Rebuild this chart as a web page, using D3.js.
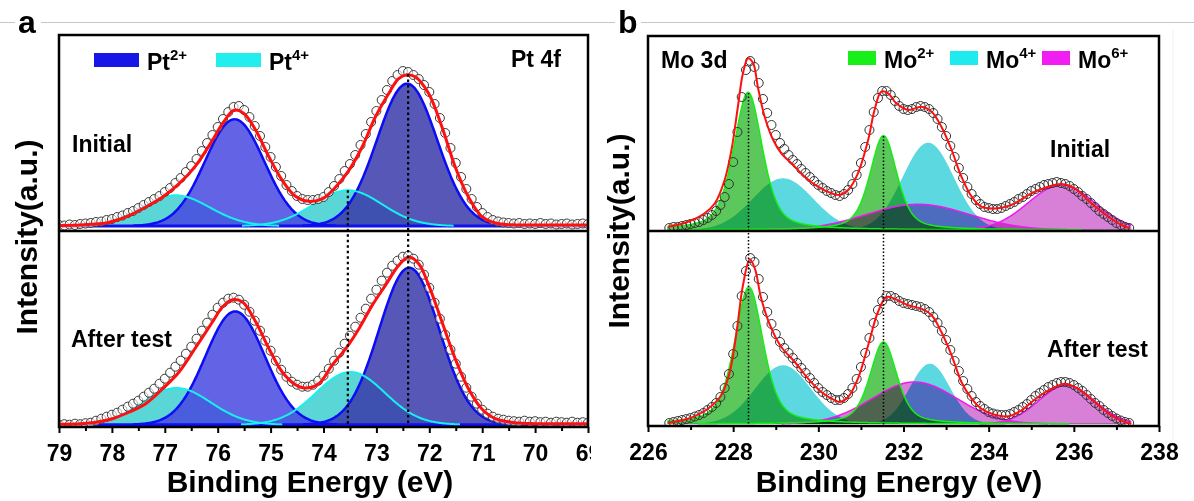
<!DOCTYPE html>
<html>
<head>
<meta charset="utf-8">
<script src="https://cdnjs.cloudflare.com/ajax/libs/d3/7.8.5/d3.min.js"></script>
<style>
  html, body { margin: 0; padding: 0; background: #fff; }
  svg { display: block; font-family: "Liberation Sans", Arial, sans-serif; font-weight: bold; }
</style>
</head>
<body>
<svg id="chart" width="1194" height="501"><defs></defs></svg>
<script>
// ---------- panel a : Pt 4f ----------
var ptStates = ["Pt2+", "Pt4+"];
var ptTicks = [79, 78, 77, 76, 75, 74, 73, 72, 71, 70, 69];
var ptMinor = [78.5, 77.5, 76.5, 75.5, 74.5, 73.5, 72.5, 71.5, 70.5, 69.5];
// measured points, 79.0 -> 69.0 eV every 0.1 eV
var ptEnergy = d3.range(0, 101).map(function (i) { return +(79 - i * 0.1).toFixed(1); });
var ptInitial = [
  1, 0.5, 1.5, 1, 2, 2.5, 3, 4, 4.5, 6,
  7, 9, 10.5, 13, 15, 18, 21, 24, 27, 30,
  34, 38, 43, 48, 54, 60, 67, 75, 83, 91,
  99, 107, 114, 119, 120, 116, 109, 100, 90, 79,
  69, 59, 50, 41, 35, 30, 27, 26, 26, 27,
  29, 34, 40, 47, 55, 62, 71, 81, 92, 104,
  115, 126, 136, 145, 151, 155, 154, 151, 147, 141,
  134, 122, 108, 93, 78, 63, 49, 37, 27, 19,
  13, 9, 6, 4.5, 3.5, 3, 2.5, 3, 2, 2.5,
  2, 3, 2, 2.5, 1.5, 2, 2.5, 1.5, 2, 2.5,
  2
];
var ptAfter = [
  0, 0.5, 0, 1, 0.5, 1.5, 2, 4, 6, 8,
  10, 12, 15, 18, 21, 24, 28, 32, 36, 41,
  46, 52, 58, 64, 71, 78, 86, 94, 102, 110,
  117, 122, 126, 127, 125, 120, 113, 104, 94, 84,
  74, 64, 55, 48, 43, 40, 38, 38, 40, 44,
  49, 56, 64, 72, 81, 89, 98, 107, 116, 126,
  135, 144, 152, 159, 164, 168, 169, 166, 160, 150,
  137, 122, 106, 90, 75, 61, 48, 37, 28, 21,
  15, 11, 8, 6, 5, 4, 3.5, 3, 4, 3,
  3.5, 2.5, 3, 2, 3, 2.5, 2, 3, 2, 2.5,
  2
];
// fitted envelope [eV, intensity]
var ptFitInitial = [
  [79.0, 0.5], [78.6, 1], [78.3, 2], [78.11, 3], [77.9, 6], [77.67, 10.7], [77.36, 19], [77.04, 29],
  [76.73, 42.3], [76.41, 60.7], [76.1, 85.7], [75.91, 102.3], [75.69, 115.7], [75.5, 112.3], [75.28, 95.7],
  [75.03, 69], [74.78, 45.7], [74.53, 29.7], [74.28, 24.7], [74.02, 27.3], [73.77, 39], [73.52, 55.7],
  [73.27, 79], [73.02, 109], [72.77, 132.3], [72.58, 147.3], [72.42, 151.3], [72.26, 149], [72.01, 132.3],
  [71.76, 99], [71.51, 59], [71.26, 29], [71.01, 9.7], [70.75, 3], [70.44, 1.2], [70.0, 1], [69.0, 1]
];
var ptFitAfter = [
  [79.0, 0.5], [78.6, 1], [78.3, 2.5], [77.99, 6], [77.67, 12.7], [77.36, 21], [77.04, 36], [76.73, 52.7],
  [76.41, 77.7], [76.1, 102.7], [75.91, 117.7], [75.72, 125], [75.53, 122.7], [75.28, 102.7], [75.03, 76],
  [74.78, 52.7], [74.53, 40], [74.34, 36.7], [74.09, 41], [73.84, 59.3], [73.58, 76], [73.33, 96],
  [73.08, 119.3], [72.83, 139.3], [72.58, 159.3], [72.39, 167.7], [72.2, 161], [72.01, 139.3], [71.76, 102.7],
  [71.51, 66], [71.26, 36], [71.01, 16], [70.75, 6], [70.38, 2], [70.0, 1], [69.0, 1]
];
// fitted components: centre (eV), height, FWHM (eV)
var ptPeaksInitial = [
  { state: "Pt2+", center: 75.68, height: 106.7, fwhm: 1.32 },
  { state: "Pt2+", center: 72.42, height: 142.3, fwhm: 1.34 },
  { state: "Pt4+", center: 76.8, height: 30.7, fwhm: 1.53 },
  { state: "Pt4+", center: 73.54, height: 35.7, fwhm: 1.53 }
];
var ptPeaksAfter = [
  { state: "Pt2+", center: 75.67, height: 113.3, fwhm: 1.32 },
  { state: "Pt2+", center: 72.38, height: 157, fwhm: 1.34 },
  { state: "Pt4+", center: 76.78, height: 36.7, fwhm: 1.53 },
  { state: "Pt4+", center: 73.49, height: 52.7, fwhm: 1.53 }
];
var ptRefLines = [{ energy: 73.54, top: 35.7 }, { energy: 72.4, top: 152 }];

// ---------- panel b : Mo 3d ----------
var moStates = ["Mo2+", "Mo4+", "Mo6+"];
var moTicks = [226, 228, 230, 232, 234, 236, 238];
var moMinor = [227, 229, 231, 233, 235, 237];
// measured points, 226.5 -> 237.3 eV every 0.1 eV
var moEnergy = d3.range(0, 109).map(function (i) { return +(226.5 + i * 0.1).toFixed(1); });
var moInitial = [
  2, 3, 3, 4, 5, 6, 7, 8, 10, 12,
  15, 19, 25, 33, 46, 68, 98, 133, 160, 169,
  163, 147, 131, 117, 105, 95, 87, 81, 75, 70,
  66, 61, 57, 53, 49, 45, 42, 39, 37, 35,
  34, 36, 40, 46, 55, 67, 83, 100, 118, 132,
  139, 139, 135, 129, 124, 121, 120, 121, 123, 124,
  123, 121, 117, 111, 103, 94, 84, 73, 62, 52,
  43, 36, 30, 26, 23, 22, 21, 21, 22, 24,
  26, 28, 31, 33, 36, 39, 41, 43, 45, 46,
  47, 48, 47, 46, 44, 41, 38, 34, 31, 27,
  23, 19, 16, 13, 10, 7, 5, 3, 2
];
var moAfter = [
  1, 2, 3, 4, 5, 6, 7.5, 9, 11, 14,
  17, 21, 27, 36, 50, 70, 98, 128, 153, 166,
  162, 145, 127, 112, 100, 90, 82, 76, 71, 66,
  61, 56, 51, 46, 41, 36, 32, 29, 26, 24,
  24, 26, 30, 36, 45, 57, 71, 86, 101, 114,
  123, 128, 128, 126, 123, 121, 120, 119, 118, 117,
  115, 112, 107, 101, 93, 84, 74, 63, 53, 43,
  35, 28, 22, 18, 15, 12, 10.5, 9.5, 9, 9,
  10, 12, 14, 17, 20, 24, 28, 31, 34, 37,
  39, 41, 42, 42, 41, 39, 36, 33, 29, 25,
  21, 18, 14, 11, 8, 5.5, 3.5, 2, 1
];
var moFitInitial = [
  [226.47, 3.3], [226.94, 8.3], [227.33, 16.7], [227.57, 26.7], [227.8, 50], [227.96, 80], [228.11, 123],
  [228.23, 156.7], [228.35, 171.7], [228.47, 166.7], [228.58, 143], [228.74, 113.3], [228.94, 90],
  [229.13, 76.7], [229.37, 66.7], [229.68, 53.3], [229.99, 43.3], [230.31, 36.7], [230.5, 35], [230.7, 40],
  [230.93, 56.7], [231.17, 90], [231.32, 120], [231.48, 138.3], [231.64, 136.7], [231.83, 126.7],
  [232.11, 120], [232.42, 123.3], [232.66, 118.3], [232.89, 103.3], [233.13, 80], [233.36, 53.3],
  [233.6, 33.3], [233.83, 23.3], [234.22, 21.7], [234.61, 26.7], [235.0, 36.7], [235.4, 43.3],
  [235.71, 46], [236.02, 41.7], [236.41, 26.7], [236.81, 13.3], [237.12, 5], [237.31, 1.7]
];
var moFitAfter = [
  [226.47, 1.3], [226.94, 5.3], [227.41, 15.3], [227.72, 28.7], [227.92, 52], [228.08, 92], [228.23, 138.7],
  [228.39, 164.7], [228.51, 155.3], [228.66, 125.3], [228.9, 95.3], [229.13, 77], [229.45, 62],
  [229.76, 45.3], [230.07, 32], [230.39, 23.7], [230.5, 22], [230.7, 27], [230.93, 45.3], [231.17, 78.7],
  [231.4, 112], [231.6, 127], [231.79, 125.3], [232.11, 118.7], [232.42, 115.3], [232.66, 108.7],
  [232.89, 92], [233.13, 68.7], [233.36, 42], [233.6, 25.3], [233.83, 15.3], [234.14, 9.3], [234.46, 7.7],
  [234.77, 13.7], [235.16, 27], [235.48, 35.3], [235.79, 40.3], [236.1, 35.3], [236.49, 22], [236.88, 8.7],
  [237.2, 2], [237.35, 0.3]
];
// eta = Lorentzian fraction of the pseudo-Voigt line shape
var moPeaksInitial = [
  { state: "Mo6+", center: 232.34, height: 25.7, fwhm: 2.83, eta: 0 },
  { state: "Mo6+", center: 235.71, height: 45, fwhm: 1.84, eta: 0 },
  { state: "Mo4+", center: 229.17, height: 51.7, fwhm: 1.67, eta: 0 },
  { state: "Mo4+", center: 232.58, height: 87.3, fwhm: 1.41, eta: 0 },
  { state: "Mo2+", center: 228.35, height: 137.7, fwhm: 0.8, eta: 0.5 },
  { state: "Mo2+", center: 231.53, height: 94.3, fwhm: 0.75, eta: 0.5 }
];
var moPeaksAfter = [
  { state: "Mo6+", center: 232.26, height: 42, fwhm: 2.35, eta: 0 },
  { state: "Mo6+", center: 235.83, height: 38.7, fwhm: 1.53, eta: 0 },
  { state: "Mo4+", center: 229.17, height: 58.7, fwhm: 1.53, eta: 0 },
  { state: "Mo4+", center: 232.62, height: 60.3, fwhm: 1.11, eta: 0 },
  { state: "Mo2+", center: 228.37, height: 137, fwhm: 0.8, eta: 0.5 },
  { state: "Mo2+", center: 231.53, height: 82, fwhm: 0.75, eta: 0.5 }
];
var moRefLines = [{ energy: 228.36, top: 137 }, { energy: 231.53, top: 94 }];

// ---------- drawing ----------
var svg = d3.select("#chart");
var defs = svg.select("defs");

function peakValue(pk, e) {
  var d = (e - pk.center) / (pk.fwhm / 2);
  var g = Math.exp(-Math.LN2 * d * d), l = 1 / (1 + d * d);
  var eta = pk.eta || 0;
  return pk.height * ((1 - eta) * g + eta * l);
}

// page rule behind the panel letters
svg.append("line").attr("x1", 0).attr("x2", 1194).attr("y1", 22.5).attr("y2", 22.5)
  .attr("stroke", "#c6c6c6").attr("stroke-width", 1);
svg.append("line").attr("x1", 1173).attr("x2", 1173).attr("y1", 30).attr("y2", 440)
  .attr("stroke", "#f0f0f0").attr("stroke-width", 1);

function drawPanel(p) {
  var x = d3.scaleLinear().domain(p.domain).range([p.left, p.right]);
  var g = svg.append("g");
  var es = d3.range(p.peakRange[0], p.peakRange[1] + 0.001, 0.02);

  p.rows.forEach(function (row, ri) {
    var y = d3.scaleLinear().domain([0, 200]).range([row.base, row.base - 200]);
    var y0 = ri === 0 ? p.top : p.mid, y1 = ri === 0 ? p.mid : p.axis;
    var clipId = "clip-" + p.id + ri;
    defs.append("clipPath").attr("id", clipId).append("rect")
      .attr("x", p.left).attr("y", y0).attr("width", p.right - p.left).attr("height", y1 - y0);
    var rg = g.append("g").attr("clip-path", "url(#" + clipId + ")");

    var curves = row.peaks.map(function (pk) {
      return { pk: pk, pts: es.map(function (e) { return [e, peakValue(pk, e)]; }) };
    });
    var area = d3.area().x(function (d) { return x(d[0]); }).y0(y(0)).y1(function (d) { return y(d[1]); });
    var line = d3.line().x(function (d) { return x(d[0]); }).y(function (d) { return y(d[1]); });

    var fillG = rg.append("g").style("isolation", "isolate");
    p.fillOrder.forEach(function (state) {
      var st = p.style[state], n = 0;
      curves.filter(function (c) { return c.pk.state === state; }).forEach(function (c) {
        fillG.append("path").attr("d", area(c.pts))
          .attr("fill", st.fill[n++ % st.fill.length])
          .attr("fill-opacity", st.opacity)
          .style("mix-blend-mode", p.blend);
      });
    });
    if (p.baseLine) {
      rg.append("line").attr("x1", p.left).attr("x2", p.right).attr("y1", y(0)).attr("y2", y(0))
        .attr("stroke", p.baseLine).attr("stroke-width", 3);
    }
    p.strokeOrder.forEach(function (state) {
      var st = p.style[state];
      curves.filter(function (c) { return c.pk.state === state; }).forEach(function (c) {
        rg.append("path").attr("d", line(c.pts.filter(function (d) { return d[1] > 0.3; })))
          .attr("fill", "none").attr("stroke", st.stroke).attr("stroke-width", st.width);
      });
    });

    // measured points
    rg.append("g").selectAll("circle").data(row.data).join("circle")
      .attr("cx", function (d, i) { return x(p.energy[i]); })
      .attr("cy", function (d) { return y(d); })
      .attr("r", 4.5)
      .attr("fill", p.dot.fill).attr("fill-opacity", p.dot.fillOpacity)
      .attr("stroke", p.dot.stroke).attr("stroke-width", 1);

    // envelope
    rg.append("path")
      .attr("d", d3.line().curve(d3.curveCatmullRom.alpha(0.5))
        .x(function (d) { return x(d[0]); }).y(function (d) { return y(d[1]); })(row.fit))
      .attr("fill", "none").attr("stroke", "#ff1010").attr("stroke-width", p.fitWidth);

    g.append("text").attr("x", row.nameX).attr("y", row.nameY)
      .attr("font-size", 23).text(row.name);

    if (ri === 0) row.yScale = y;
  });

  // dotted guides from the upper spectrum down to the energy axis
  p.refLines.forEach(function (r) {
    g.append("line").attr("x1", x(r.energy)).attr("x2", x(r.energy))
      .attr("y1", p.rows[0].yScale(r.top)).attr("y2", p.axis)
      .attr("stroke", "#000").attr("stroke-width", p.refWidth).attr("stroke-dasharray", p.refDash);
  });

  // frame
  g.append("rect").attr("x", p.left).attr("y", p.top).attr("width", p.right - p.left)
    .attr("height", p.axis - p.top).attr("fill", "none").attr("stroke", "#000").attr("stroke-width", 2.5);
  g.append("line").attr("x1", p.left).attr("x2", p.right).attr("y1", p.mid).attr("y2", p.mid)
    .attr("stroke", "#000").attr("stroke-width", 2.5);

  // axis (clip is in the translated group's own coordinates)
  defs.append("clipPath").attr("id", "axclip-" + p.id).append("rect")
    .attr("x", p.left - 40).attr("y", -5).attr("width", p.clipRight - p.left + 40).attr("height", 60);
  var ax = g.append("g").attr("transform", "translate(0," + p.axis + ")")
    .attr("clip-path", "url(#axclip-" + p.id + ")")
    .call(d3.axisBottom(x).tickValues(p.ticks).tickSize(6).tickSizeOuter(0).tickPadding(12)
      .tickFormat(d3.format("d")));
  ax.select(".domain").remove();
  ax.attr("font-family", null).attr("font-size", 23);
  ax.selectAll("line").attr("stroke-width", 2);
  ax.selectAll("text").attr("fill", "#000");
  var mx = g.append("g").attr("transform", "translate(0," + p.axis + ")")
    .call(d3.axisBottom(x).tickValues(p.minor).tickSize(4).tickSizeOuter(0).tickFormat(""));
  mx.select(".domain").remove();
  mx.selectAll("line").attr("stroke-width", 2);

  g.append("text").attr("x", p.titleX).attr("y", 492).attr("text-anchor", "middle")
    .attr("font-size", 30).text("Binding Energy (eV)");
  g.append("text").attr("transform", "translate(" + p.yTitleX + "," + p.yTitleY + ") rotate(-90)")
    .attr("text-anchor", "middle").attr("font-size", 30).text("Intensity(a.u.)");

  g.append("text").attr("x", p.tagX).attr("y", p.tagY).attr("font-size", 23).text(p.tag);

  // legend
  p.legend.forEach(function (it) {
    var m = it.state.match(/^([A-Za-z]+)(.*)$/);
    g.append("rect").attr("x", it.x).attr("y", p.legendY).attr("width", p.legendW).attr("height", 14)
      .attr("fill", p.style[it.state].key);
    var t = g.append("text").attr("x", it.x + p.legendW + 8).attr("y", p.legendY + 17).attr("font-size", 23);
    t.append("tspan").text(m[1]);
    t.append("tspan").attr("dy", -10).attr("font-size", 15).text(m[2]);
  });

  // panel letter over the page rule
  g.append("rect").attr("x", p.letterX - 3).attr("y", 8).attr("width", 26).attr("height", 28).attr("fill", "#fff");
  g.append("text").attr("x", p.letterX).attr("y", 33).attr("font-size", 32).text(p.id);
}

drawPanel({
  id: "a", left: 59, right: 588, top: 35, mid: 231, axis: 427, clipRight: 591,
  domain: [79, 69], peakRange: [69, 79], ticks: ptTicks, minor: ptMinor, energy: ptEnergy,
  rows: [
    { base: 226, data: ptInitial, fit: ptFitInitial, peaks: ptPeaksInitial, name: "Initial", nameX: 72, nameY: 152 },
    { base: 424.7, data: ptAfter, fit: ptFitAfter, peaks: ptPeaksAfter, name: "After test", nameX: 71, nameY: 347 }
  ],
  style: {
    "Pt2+": { fill: ["#4848e0", "#3a3aaa"], opacity: 0.85, stroke: "#0c0cf5", width: 2.5, key: "#1616e6" },
    "Pt4+": { fill: ["#48d2d2"], opacity: 0.9, stroke: "#18f0f0", width: 2, key: "#22eeee" }
  },
  fillOrder: ["Pt4+", "Pt2+"], strokeOrder: ["Pt2+", "Pt4+"], blend: "normal",
  baseLine: "#1010f0", fitWidth: 3, refWidth: 2.2, refDash: "2.5,3",
  dot: { fill: "#fff", fillOpacity: 0.6, stroke: "#3a3a3a" },
  refLines: ptRefLines,
  titleX: 310, yTitleX: 37, yTitleY: 237,
  tag: "Pt 4f", tagX: 511, tagY: 67,
  legendY: 53, legendW: 45,
  legend: [{ state: ptStates[0], x: 94 }, { state: ptStates[1], x: 216 }],
  letterX: 18
});

drawPanel({
  id: "b", left: 648, right: 1159, top: 36, mid: 231, axis: 426, clipRight: 1194,
  domain: [226, 238], peakRange: [226.45, 237.35], ticks: moTicks, minor: moMinor, energy: moEnergy,
  rows: [
    { base: 230, data: moInitial, fit: moFitInitial, peaks: moPeaksInitial, name: "Initial", nameX: 1050, nameY: 157 },
    { base: 424, data: moAfter, fit: moFitAfter, peaks: moPeaksAfter, name: "After test", nameX: 1047, nameY: 357 }
  ],
  style: {
    "Mo2+": { fill: ["#5cc85c"], opacity: 1, stroke: "#14ee14", width: 1.5, key: "#18ee18" },
    "Mo4+": { fill: ["#5cd8e0"], opacity: 1, stroke: "none", width: 0, key: "#1eeaf0" },
    "Mo6+": { fill: ["#d880d8"], opacity: 1, stroke: "#f018f0", width: 1.5, key: "#f01ef0" }
  },
  fillOrder: ["Mo6+", "Mo4+", "Mo2+"], strokeOrder: ["Mo6+", "Mo2+"], blend: "multiply",
  baseLine: null, fitWidth: 2, refWidth: 1.5, refDash: "1.5,2",
  dot: { fill: "none", fillOpacity: 1, stroke: "#333" },
  refLines: moRefLines,
  titleX: 899, yTitleX: 629, yTitleY: 231,
  tag: "Mo 3d", tagX: 661, tagY: 68,
  legendY: 51, legendW: 28,
  legend: [{ state: moStates[0], x: 848 }, { state: moStates[1], x: 950 }, { state: moStates[2], x: 1042 }],
  letterX: 618
});
</script>
</body>
</html>
